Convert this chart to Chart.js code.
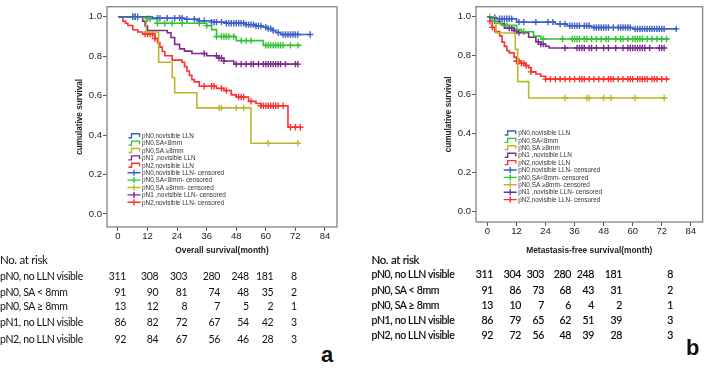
<!DOCTYPE html>
<html><head><meta charset="utf-8">
<script src="https://cdn.jsdelivr.net/npm/chart.js@4"></script>
<style>
body{margin:0;width:708px;height:368px;background:#fff;position:relative;overflow:hidden;font-family:Lato,"Liberation Sans",sans-serif;}
.pw{position:absolute;top:0;width:354px;height:258px}
.t{position:absolute;white-space:nowrap;color:#111;line-height:1}
</style></head><body>
<div class="pw" style="left:0"><canvas id="ca" width="354" height="258"></canvas></div>
<div class="pw" style="left:354px"><canvas id="cb" width="354" height="258"></canvas></div>
<div id="tables"></div>
<script>
// ---------- data ----------
const xTicks = [0, 12, 24, 36, 48, 60, 72, 84];
const yTicks = [0, 0.2, 0.4, 0.6, 0.8, 1.0];
const seriesLabels = ['pN0,novisible LLN', 'pN0,SA<8mm', 'pN0,SA \u22658mm', 'pN1 ,novisible LLN', 'pN2,novisible LLN'];
const colors = ['#3f5fc8', '#33c433', '#b9b92a', '#7c2c8e', '#ff2f2f'];

// Overall survival (panel a): step times, survival after each step, end of follow-up, censor times
const osBlueT = [0, 14, 27, 33, 38, 44, 52, 56, 59, 61, 63, 64, 66];
const osBlueS = [1, 0.993, 0.987, 0.98, 0.973, 0.967, 0.96, 0.953, 0.947, 0.94, 0.93, 0.92, 0.91];
const osBlueEnd = 78;
const osBlueC = [6, 7, 8, 16, 17, 20, 23, 25, 26, 28, 31, 33, 35, 38, 39, 40, 42, 44, 45, 46, 47, 48, 49, 50, 51, 52, 53, 54, 55, 56, 57, 58, 60, 61, 62, 63, 65, 67, 68, 69, 70, 71, 72, 73, 78];
const osGreenT = [0, 12, 16, 36, 38, 40, 48, 59];
const osGreenS = [1, 0.99, 0.967, 0.955, 0.935, 0.9, 0.879, 0.855];
const osGreenEnd = 74.5;
const osGreenC = [6, 7, 12, 13, 16, 19, 22, 26, 33, 36, 40, 42, 43, 44, 45, 47, 50, 52, 54, 60, 61, 62, 63, 64, 65, 66, 67, 70, 73];
const osOliveT = [0, 11.5, 16.5, 22, 23, 32, 54];
const osOliveS = [1, 0.923, 0.769, 0.692, 0.615, 0.538, 0.359];
const osOliveEnd = 73;
const osOliveC = [41, 42, 48, 51, 61, 73];
const osPurpleT = [0, 10, 11, 12, 20, 21.5, 23, 25, 27, 30, 36, 41, 43, 47];
const osPurpleS = [1, 0.977, 0.953, 0.93, 0.919, 0.895, 0.86, 0.837, 0.826, 0.814, 0.802, 0.79, 0.776, 0.76];
const osPurpleEnd = 73;
const osPurpleC = [35, 40, 41, 42, 43, 48, 50, 52, 54, 55, 57, 59, 60, 61, 62, 63, 64, 65, 66, 68, 72, 73];
const osRedT = [0, 2, 3, 4, 6, 8, 10, 15, 16, 17, 18, 19, 22, 26, 27, 28, 29, 30, 31, 33, 40, 43, 46, 48, 53, 56, 58, 69];
const osRedS = [1, 0.978, 0.967, 0.956, 0.934, 0.923, 0.912, 0.89, 0.868, 0.846, 0.824, 0.802, 0.78, 0.769, 0.747, 0.725, 0.703, 0.681, 0.67, 0.648, 0.637, 0.626, 0.604, 0.593, 0.571, 0.56, 0.549, 0.44];
const osRedEnd = 74;
const osRedC = [11, 12, 13, 14, 15, 35, 38, 39, 42, 44, 49, 50, 51, 54, 58, 59, 60, 61, 62, 63, 64, 65, 67, 70, 72, 74];

// Metastasis-free survival (panel b)
const mfsBlueT = [0, 1, 4, 12, 28, 33, 43, 60];
const mfsBlueS = [1, 0.995, 0.99, 0.973, 0.963, 0.954, 0.945, 0.938];
const mfsBlueEnd = 78;
const mfsBlueC = [3, 5, 6, 7, 8, 9, 10, 13, 15, 20, 25, 27, 30, 32, 34, 35, 36, 37, 38, 40, 41, 42, 44, 45, 46, 47, 48, 49, 50, 52, 54, 55, 56, 57, 58, 59, 61, 62, 63, 64, 65, 66, 67, 68, 69, 70, 71, 72, 73, 78];
const mfsGreenT = [0, 2, 3, 6, 12, 14, 19, 22];
const mfsGreenS = [1, 0.978, 0.967, 0.956, 0.934, 0.923, 0.901, 0.886];
const mfsGreenEnd = 75;
const mfsGreenC = [7, 8, 15, 23, 31, 35, 36, 37, 38, 40, 41, 43, 45, 47, 49, 50, 53, 55, 56, 58, 60, 61, 62, 63, 64, 66, 68, 70, 72, 74];
const mfsOliveT = [0, 3.5, 11.5, 12.5, 17];
const mfsOliveS = [1, 0.917, 0.833, 0.667, 0.583];
const mfsOliveEnd = 73.5;
const mfsOliveC = [1, 32, 41, 42, 48, 51, 61, 73];
const mfsPurpleT = [0, 3, 5, 7, 11, 12.5, 17, 20, 22, 24, 25.5];
const mfsPurpleS = [1, 0.977, 0.965, 0.942, 0.93, 0.919, 0.895, 0.872, 0.86, 0.849, 0.84];
const mfsPurpleEnd = 73.5;
const mfsPurpleC = [9, 10, 11, 12, 13, 21, 22, 23, 32, 37, 38, 39, 40, 42, 43, 45, 48, 50, 53, 56, 58, 59, 60, 61, 62, 63, 64, 65, 67, 71, 72, 73];
const mfsRedT = [0, 1, 2, 3, 5, 6, 7, 8, 9, 11, 12, 14, 16, 17, 18, 20, 22, 24];
const mfsRedS = [1, 0.978, 0.946, 0.924, 0.902, 0.87, 0.848, 0.826, 0.815, 0.793, 0.772, 0.761, 0.75, 0.739, 0.717, 0.706, 0.695, 0.68];
const mfsRedEnd = 75;
const mfsRedC = [1, 2, 12, 13, 14, 15, 16, 18, 24, 26, 28, 30, 32, 34, 36, 38, 39, 40, 42, 44, 46, 48, 50, 51, 52, 54, 56, 58, 59, 60, 62, 63, 64, 65, 66, 68, 69, 70, 72, 74];

// Numbers at risk
const riskRowLabels = ['pN0, no LLN visible', 'pN0, SA < 8mm', 'pN0, SA \u2265 8mm', 'pN1, no LLN visible', 'pN2, no LLN visible'];
const riskOS = [
  [311, 308, 303, 280, 248, 181, 8],
  [91, 90, 81, 74, 48, 35, 2],
  [13, 12, 8, 7, 5, 2, 1],
  [86, 82, 72, 67, 54, 42, 3],
  [92, 84, 67, 56, 46, 28, 3]
];
const riskMFS = [
  [311, 304, 303, 280, 248, 181, 8],
  [91, 86, 73, 68, 43, 31, 2],
  [13, 10, 7, 6, 4, 2, 1],
  [86, 79, 65, 62, 51, 39, 3],
  [92, 72, 56, 48, 39, 28, 3]
];

// ---------- helpers ----------
function kmPoints(T, S, end) {
  const p = T.map((t, i) => ({x: t, y: S[i]}));
  p.push({x: end, y: S[S.length - 1]});
  return p;
}
function survAt(T, S, t) {
  let v = S[0];
  for (let i = 0; i < T.length; i++) if (T[i] <= t) v = S[i];
  return v;
}
function buildDatasets(groups) {
  const lines = [], marks = [];
  groups.forEach((g, i) => {
    lines.push({label: seriesLabels[i], data: kmPoints(g[0], g[1], g[2]), showLine: true, stepped: 'before',
      borderColor: colors[i], borderWidth: 1.6, pointRadius: 0, fill: false});
    marks.push({label: seriesLabels[i] + '- censored', data: g[3].map(t => ({x: t, y: survAt(g[0], g[1], t)})),
      showLine: false, pointStyle: 'cross', pointRadius: 3.2, borderColor: colors[i], backgroundColor: colors[i], pointBorderWidth: 1.4});
  });
  return lines.concat(marks);
}

const framePlugin = {
  id: 'frame',
  afterDraw(chart, args, opts) {
    const {ctx, chartArea: a} = chart;
    ctx.save();
    ctx.strokeStyle = '#8c8c8c';
    ctx.lineWidth = 1.4;
    ctx.strokeRect(a.left, a.top, a.right - a.left, a.bottom - a.top);
    // legend inside the plot
    const x0 = a.left + opts.lx, y0 = opts.ly, dy = 7.4;
    ctx.font = '6.4px "Liberation Sans", Arial, sans-serif';
    ctx.textBaseline = 'middle';
    chart.data.datasets.forEach((ds, i) => {
      const y = y0 + i * dy;
      ctx.strokeStyle = ds.borderColor; ctx.lineWidth = 1.4;
      ctx.beginPath();
      if (i < 5) {
        ctx.moveTo(x0, y + 2); ctx.lineTo(x0 + 3, y + 2); ctx.lineTo(x0 + 3, y - 2);
        ctx.lineTo(x0 + 11, y - 2); ctx.lineTo(x0 + 11, y + 1);
      } else {
        ctx.moveTo(x0 - 1, y); ctx.lineTo(x0 + 12, y);
        ctx.moveTo(x0 + 5.5, y - 3); ctx.lineTo(x0 + 5.5, y + 3);
      }
      ctx.stroke();
      ctx.fillStyle = '#333';
      ctx.fillText(ds.label, x0 + 13.5, y + 0.5);
    });
    ctx.restore();
  }
};

function makeChart(id, groups, cfg) {
  return new Chart(document.getElementById(id), {
    type: 'scatter',
    data: {datasets: buildDatasets(groups)},
    plugins: [framePlugin],
    options: {
      responsive: false, animation: false, devicePixelRatio: 1,
      layout: {padding: cfg.pad},
      plugins: {legend: {display: false}, tooltip: {enabled: false}, frame: {lx: cfg.lx, ly: cfg.ly}},
      scales: {
        x: {
          type: 'linear', min: cfg.xmin, max: cfg.xmax,
          afterBuildTicks: s => { s.ticks = xTicks.map(v => ({value: v})); },
          afterFit: s => { s.height = cfg.xh; },
          ticks: {autoSkip: false, maxRotation: 0, padding: 0, color: '#222', font: {family: 'Liberation Sans', size: 9.5}, callback: v => String(v)},
          grid: {display: true, drawOnChartArea: false, tickLength: 4, color: '#555'},
          border: {display: false},
          title: {display: true, text: cfg.xtitle, color: '#222', font: {family: 'Liberation Sans', size: 8.4, weight: 'bold'}, padding: {top: 2, bottom: 0}}
        },
        y: {
          type: 'linear', min: cfg.ymin, max: cfg.ymax,
          afterBuildTicks: s => { s.ticks = yTicks.map(v => ({value: v})); },
          afterFit: s => { s.width = 40; },
          ticks: {autoSkip: false, padding: 1, color: '#222', font: {family: 'Liberation Sans', size: 9.5}, callback: v => v.toFixed(1)},
          grid: {display: true, drawOnChartArea: false, tickLength: 4, color: '#555'},
          border: {display: false},
          title: {display: true, text: 'cumulative survival', color: '#222', font: {family: 'Liberation Sans', size: 8.2, weight: 'bold'}, padding: {top: 8, bottom: 0}}
        }
      }
    }
  });
}

makeChart('ca', [
  [osBlueT, osBlueS, osBlueEnd, osBlueC],
  [osGreenT, osGreenS, osGreenEnd, osGreenC],
  [osOliveT, osOliveS, osOliveEnd, osOliveC],
  [osPurpleT, osPurpleS, osPurpleEnd, osPurpleC],
  [osRedT, osRedS, osRedEnd, osRedC]
], {pad: {left: 67, right: 17, top: 1, bottom: 2}, xh: 29, xmin: -4.46, xmax: 88.9, ymin: -0.066, ymax: 1.051,
    xtitle: 'Overall survival(month)', lx: 21.5, ly: 135.7});

makeChart('cb', [
  [mfsBlueT, mfsBlueS, mfsBlueEnd, mfsBlueC],
  [mfsGreenT, mfsGreenS, mfsGreenEnd, mfsGreenC],
  [mfsOliveT, mfsOliveS, mfsOliveEnd, mfsOliveC],
  [mfsPurpleT, mfsPurpleS, mfsPurpleEnd, mfsPurpleC],
  [mfsRedT, mfsRedS, mfsRedEnd, mfsRedC]
], {pad: {left: 82, right: 2, top: 1, bottom: 2}, xh: 34, xmin: -4.76, xmax: 88.9, ymin: -0.054, ymax: 1.052,
    xtitle: 'Metastasis-free survival(month)', lx: 28.7, ly: 133});

// ---------- risk tables (HTML text) ----------
function addText(txt, left, top, style) {
  const d = document.createElement('div');
  d.className = 't';
  d.textContent = txt;
  d.style.left = left + 'px';
  d.style.top = top + 'px';
  Object.assign(d.style, style || {});
  document.getElementById('tables').appendChild(d);
  return d;
}
function addRight(txt, right, top, style) {
  const d = addText(txt, 0, top, style);
  d.style.left = '';
  d.style.right = (708 - right) + 'px';
  return d;
}
function riskTable(x0, headY, rowYs, colRights, rows, extra) {
  addText('No. at risk', x0, headY - 6.5, Object.assign({fontSize: '11.5px', letterSpacing: '-0.45px', wordSpacing: '0.5px'}, extra));
  const rs = Object.assign({fontSize: '10.5px', letterSpacing: '-0.35px'}, extra);
  rows.forEach((r, i) => {
    addText(riskRowLabels[i], x0, rowYs[i] - 5.5, rs);
    r.forEach((v, j) => addRight(String(v), colRights[j], rowYs[i] - 5.5, rs));
  });
}
riskTable(0, 260.7, [276.7, 292.3, 306.7, 322.7, 339], [126, 158.3, 187.3, 220, 248.7, 273.3, 296.7], riskOS, {});
riskTable(371.5, 260, [274.3, 290, 305.3, 320.7, 335.7], [493, 521, 544, 571, 594, 622, 673], riskMFS, {webkitTextStroke: '0.15px #000', color: '#000'});
addText('a', 321, 344, {fontSize: '22px', fontWeight: 'bold', fontFamily: '"Liberation Sans", Arial, sans-serif'});
addText('b', 686, 337, {fontSize: '22px', fontWeight: 'bold', fontFamily: '"Liberation Sans", Arial, sans-serif'});
</script>
</body></html>
